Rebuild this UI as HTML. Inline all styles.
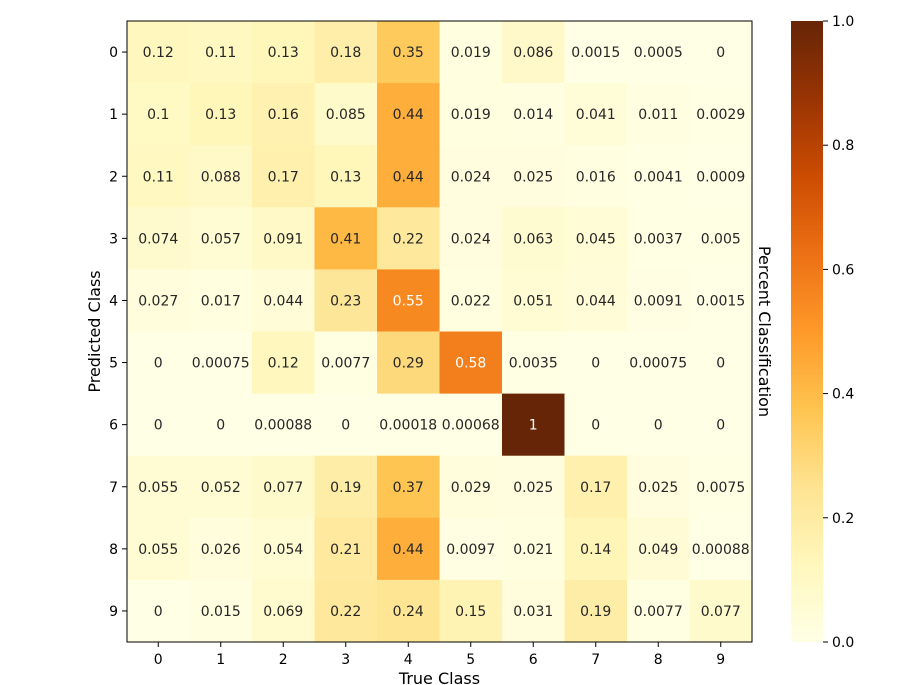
<!DOCTYPE html>
<html><head><meta charset="utf-8"><style>body{margin:0;background:#fff}svg{display:block;font-family:"DejaVu Sans","Liberation Sans",sans-serif}</style></head>
<body><svg id="s" width="899" height="685" xmlns="http://www.w3.org/2000/svg"></svg>
<script>
const M=[
["0.12","0.11","0.13","0.18","0.35","0.019","0.086","0.0015","0.0005","0"],
["0.1","0.13","0.16","0.085","0.44","0.019","0.014","0.041","0.011","0.0029"],
["0.11","0.088","0.17","0.13","0.44","0.024","0.025","0.016","0.0041","0.0009"],
["0.074","0.057","0.091","0.41","0.22","0.024","0.063","0.045","0.0037","0.005"],
["0.027","0.017","0.044","0.23","0.55","0.022","0.051","0.044","0.0091","0.0015"],
["0","0.00075","0.12","0.0077","0.29","0.58","0.0035","0","0.00075","0"],
["0","0","0.00088","0","0.00018","0.00068","1","0","0","0"],
["0.055","0.052","0.077","0.19","0.37","0.029","0.025","0.17","0.025","0.0075"],
["0.055","0.026","0.054","0.21","0.44","0.0097","0.021","0.14","0.049","0.00088"],
["0","0.015","0.069","0.22","0.24","0.15","0.031","0.19","0.0077","0.077"]];
const C=["#ffffe5","#fff7bc","#fee391","#fec44f","#fe9929","#ec7014","#cc4c02","#993404","#662506"];
function h(c){return[1,3,5].map(i=>parseInt(c.substr(i,2),16))}
function cm(v){v=Math.max(0,Math.min(1,v));let p=v*8,i=Math.min(7,Math.floor(p)),f=p-i,a=h(C[i]),b=h(C[i+1]);return"rgb("+a.map((x,k)=>Math.round(x+(b[k]-x)*f)).join(",")+")"}
let L=127,T=21,W=625,H=621,cw=W/10,ch=H/10,o="";
for(let r=0;r<10;r++)for(let c=0;c<10;c++){let v=parseFloat(M[r][c]);
o+=`<rect x="${L+c*cw}" y="${T+r*ch}" width="${cw+0.5}" height="${ch+0.5}" fill="${cm(v)}"/>`;
o+=`<text x="${L+c*cw+cw/2}" y="${T+r*ch+ch/2+5}" text-anchor="middle" font-size="14" fill="${v>0.5?'#fff':'#262626'}">${M[r][c]}</text>`;}
o+=`<rect x="${L}" y="${T}" width="${W}" height="${H}" fill="none" stroke="#000" stroke-width="1"/>`;
for(let i=0;i<10;i++){let x=L+i*cw+cw/2,y=T+i*ch+ch/2;
o+=`<line x1="${x}" y1="${T+H}" x2="${x}" y2="${T+H+5}" stroke="#000"/><text x="${x}" y="${T+H+22}" text-anchor="middle" font-size="14">${i}</text>`;
o+=`<line x1="${L-5}" y1="${y}" x2="${L}" y2="${y}" stroke="#000"/><text x="${L-9}" y="${y+5}" text-anchor="end" font-size="14">${i}</text>`;}
o+=`<text x="${L+W/2}" y="684" text-anchor="middle" font-size="16">True Class</text>`;
o+=`<text transform="translate(100,${T+H/2}) rotate(-90)" text-anchor="middle" font-size="16">Predicted Class</text>`;
o+=`<defs><linearGradient id="g" x1="0" y1="1" x2="0" y2="0">${C.map((c,i)=>`<stop offset="${i/8}" stop-color="${c}"/>`).join("")}</linearGradient></defs>`;
let cx=791,cW=32;
o+=`<rect x="${cx}" y="${T}" width="${cW}" height="${H}" fill="url(#g)"/>`;
for(let i=0;i<=5;i++){let y=T+H-i*H/5;o+=`<line x1="${cx+cW}" y1="${y}" x2="${cx+cW+5}" y2="${y}" stroke="#000"/><text x="${cx+cW+9}" y="${y+5}" font-size="14">${(i*0.2).toFixed(1)}</text>`;}
o+=`<text transform="translate(759,${T+H/2}) rotate(90)" text-anchor="middle" font-size="16">Percent Classification</text>`;
document.getElementById("s").innerHTML=o;
</script></body></html>
